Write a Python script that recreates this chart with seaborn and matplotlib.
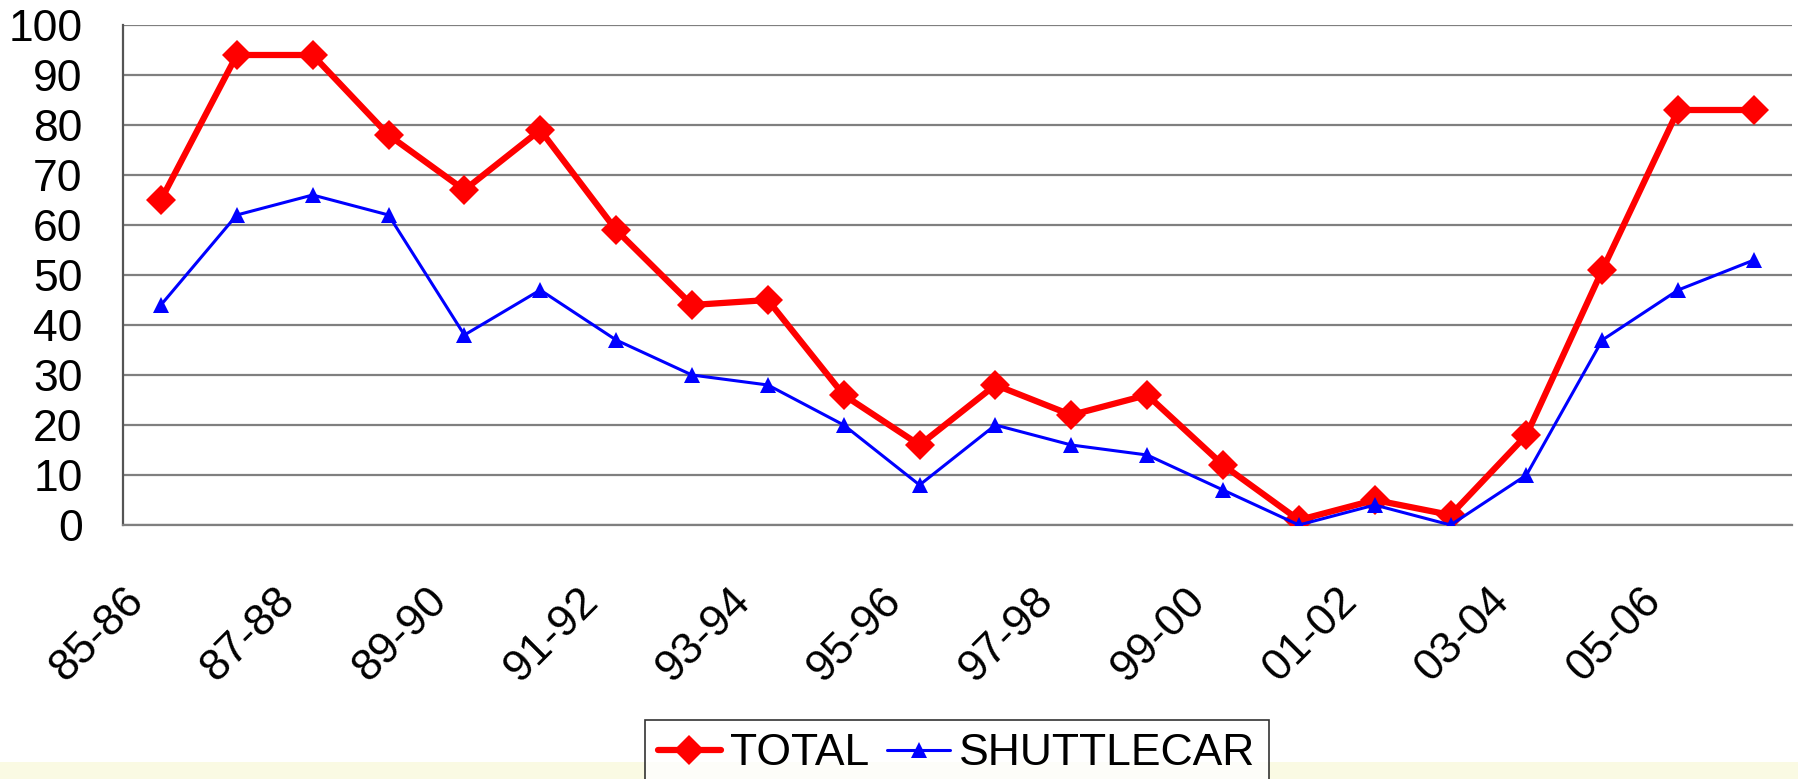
import matplotlib
matplotlib.use("Agg")
import matplotlib.pyplot as plt
import matplotlib.transforms as mtransforms
from matplotlib.font_manager import FontProperties
import seaborn as sns
import numpy as np
import pandas as pd
from matplotlib.patches import Rectangle

seasons = ["85-86", "86-87", "87-88", "88-89", "89-90", "90-91", "91-92", "92-93",
           "93-94", "94-95", "95-96", "96-97", "97-98", "98-99", "99-00", "00-01",
           "01-02", "02-03", "03-04", "04-05", "05-06", "06-07"]
total = [65, 94, 94, 78, 67, 79, 59, 44, 45, 26, 16, 28, 22, 26, 12, 1, 5, 2, 18, 51, 83, 83]
shuttlecar = [44, 62, 66, 62, 38, 47, 37, 30, 28, 20, 8, 20, 16, 14, 7, 0, 4, 0, 10, 37, 47, 53]
y_ticks = [0, 10, 20, 30, 40, 50, 60, 70, 80, 90, 100]

sns.set_style("white")
plt.rcParams['font.family'] = ['Liberation Sans', 'DejaVu Sans']
plt.rcParams['text.color'] = 'black'
plt.rcParams['xtick.color'] = 'black'
plt.rcParams['ytick.color'] = 'black'

W, H = 1798, 779
fig = plt.figure(figsize=(W / 100, H / 100), dpi=100)
ax = fig.add_axes([123 / W, 1 - 525 / H, (1792 - 123) / W, (525 - 25) / H])

df = pd.DataFrame({"pos": np.arange(len(seasons)), "season": seasons,
                   "TOTAL": total, "SHUTTLECAR": shuttlecar})

sns.lineplot(data=df, x="pos", y="TOTAL", ax=ax, color="#FF0000", linewidth=4.5,
             marker="D", markersize=15, markeredgewidth=0, label="TOTAL", zorder=4,
             legend=False)
sns.lineplot(data=df, x="pos", y="SHUTTLECAR", ax=ax, color="#0000FF", linewidth=2.2,
             marker="^", markersize=11, markeredgewidth=0, label="SHUTTLECAR", zorder=5,
             legend=False)

ax.set_xlim(-0.5, len(seasons) - 0.5)
ax.set_ylim(0, 100)
ax.set_yticks(y_ticks)
ax.set_yticklabels([str(v) for v in y_ticks])
ax.yaxis.grid(True, color="#7f7f7f", linewidth=1.6)
ax.set_axisbelow(True)

ax.set_xticks(np.arange(0, len(seasons), 2))
ax.set_xticklabels(seasons[::2], rotation=45, ha="right", va="center",
                   rotation_mode="anchor")
ax.set_xticks(np.arange(-0.5, len(seasons), 1), minor=True)
ax.tick_params(axis="x", which="major", length=0, pad=50, labelsize=32)
ax.tick_params(axis="x", which="minor", length=15, width=1.6, color="#555555", direction="out")
ax.tick_params(axis="y", length=15, width=1.6, color="#555555", direction="out",
               pad=14, labelsize=32)
ax.set_xlabel("")
ax.set_ylabel("")

shift = mtransforms.ScaledTranslation(-24 / 100, 0, fig.dpi_scale_trans)
for lab in ax.get_xticklabels():
    lab.set_transform(lab.get_transform() + shift)

for s in ["top", "right"]:
    ax.spines[s].set_visible(False)
ax.spines["left"].set_color("#555555")
ax.spines["left"].set_linewidth(1.6)
ax.spines["bottom"].set_color("#7f7f7f")
ax.spines["bottom"].set_linewidth(1.6)

# decorative bottom band
fig.patches.append(Rectangle((0, 0), 1, 17 / H, transform=fig.transFigure,
                             facecolor="#FAFAE3", edgecolor="none", zorder=0))

leg_prop = FontProperties(family="Liberation Sans", size=32)

handles, labels = ax.get_legend_handles_labels()
leg = fig.legend(handles, labels, loc="upper center", bbox_to_anchor=(957 / W, 1 - 720 / H),
                 ncol=2, frameon=True, fancybox=False, edgecolor="black",
                 prop=leg_prop,
                 handlelength=1.4, handletextpad=0.22, columnspacing=0.4,
                 borderpad=0.3, borderaxespad=0)
leg.get_frame().set_linewidth(1.2)
leg.set_zorder(10)

fig.savefig("out.png", dpi=100)
